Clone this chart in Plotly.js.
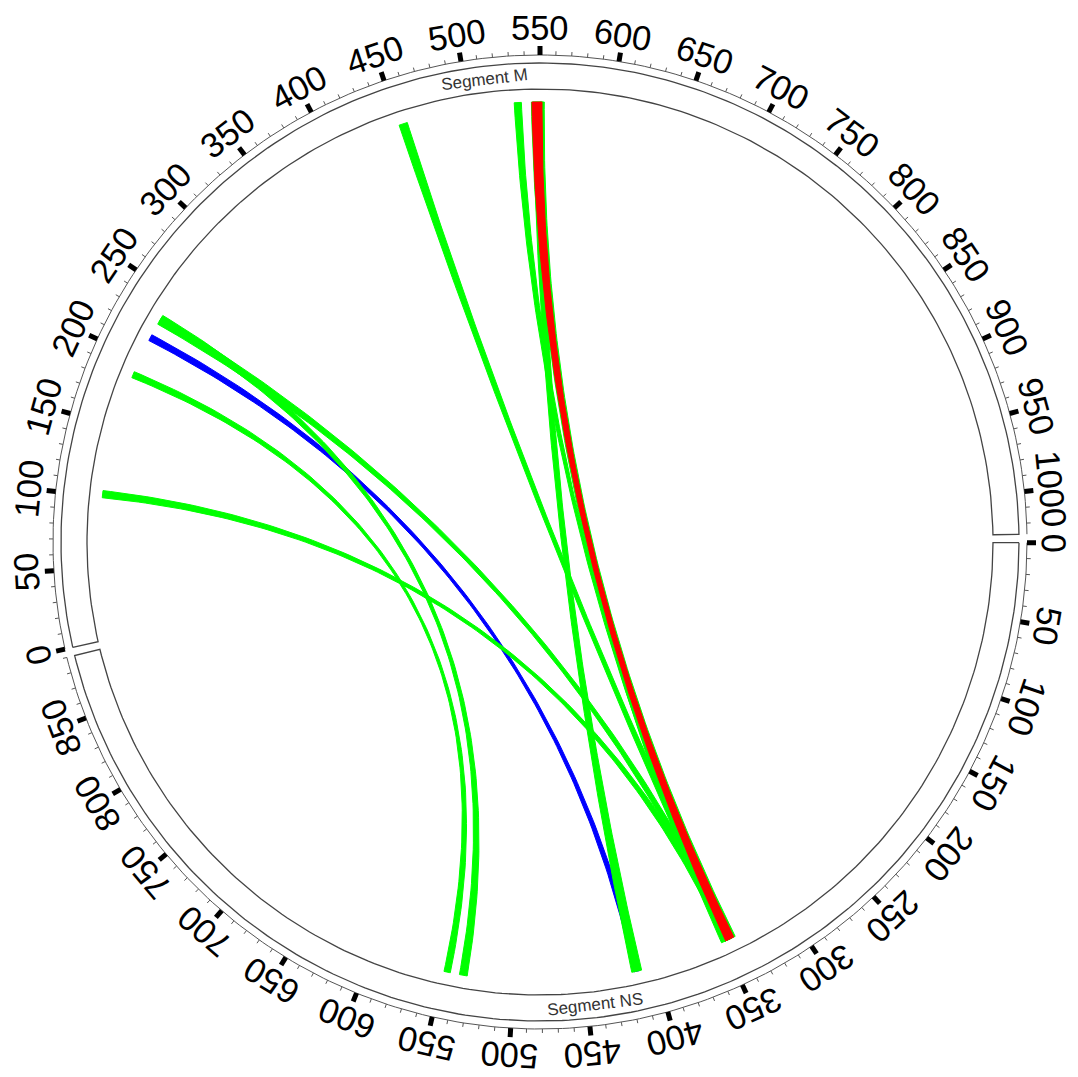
<!DOCTYPE html>
<html>
<head>
<meta charset="utf-8">
<script src="https://cdn.plot.ly/plotly-3.0.1.min.js"></script>
<style>html,body{margin:0;padding:0;background:#fff;}#chart{width:1078px;height:1077px;}</style>
</head>
<body>
<div id="chart"></div>
<script>
// ---------------- data ----------------
const segmentNames = ['Segment M', 'Segment NS'];
const segmentLengths = [1027, 890];
const majorTickStep = 50;
const minorTickStep = 10;

// chords: all link Segment M (start..end) to Segment NS (start..end)
const chordMStart  = [214,   544,   545,   532,   450,   227,   229,   185.5, 99,    544.4];
const chordMEnd    = [218.5, 553,   552,   537,   456,   233,   234,   190,   104,   551.4];
const chordNSStart = [411.5, 340.5, 410,   345,   344,   343,   532.5, 544.5, 344,   341.6];
const chordNSEnd   = [415.5, 351,   417,   349,   349,   348,   538,   549,   349,   347.8];
const chordColors  = ['#0000ff','#00ff00','#00ff00','#00ff00','#00ff00','#00ff00','#00ff00','#00ff00','#00ff00','#ff0000'];

// ---------------- geometry ----------------
const GAP = 1;                       // degrees between segments
const total = segmentLengths.reduce((a, b) => a + b, 0);
const K = (360 - GAP * segmentLengths.length) / total;   // degrees per base
const startM = 360 - 550 * K;        // M starts so that 550 sits at the top
const segStart = [startM, startM + segmentLengths[0] * K + GAP];

const R_CHORD = 440, R_BOX_IN = 453, R_BOX_OUT = 479, R_TICK = 487;
const R_MAJ = 496, R_MIN = 491, R_LAB = 514, R_SEGLAB = 466;

function ang(seg, pos) { return segStart[seg] + pos * K; }
function pol(r, th) { const a = th * Math.PI / 180; return [r * Math.sin(a), r * Math.cos(a)]; }
function norm(a) { a = ((a % 360) + 360) % 360; if (a > 180) a -= 360; return a; }

const traces = [];
const annotations = [];

// segment boxes + tick arcs
segmentLengths.forEach((len, s) => {
  const a0 = ang(s, 0), a1 = ang(s, len);
  const xs = [], ys = [];
  const n = 200;
  for (let i = 0; i <= n; i++) { const p = pol(R_BOX_OUT, a0 + (a1 - a0) * i / n); xs.push(p[0]); ys.push(p[1]); }
  for (let i = n; i >= 0; i--) { const p = pol(R_BOX_IN, a0 + (a1 - a0) * i / n); xs.push(p[0]); ys.push(p[1]); }
  xs.push(xs[0]); ys.push(ys[0]);
  traces.push({x: xs, y: ys, mode: 'lines', line: {color: '#444', width: 1.3}, hoverinfo: 'skip'});
  const tx = [], ty = [];
  for (let i = 0; i <= n; i++) { const p = pol(R_TICK, a0 + (a1 - a0) * i / n); tx.push(p[0]); ty.push(p[1]); }
  traces.push({x: tx, y: ty, mode: 'lines', line: {color: '#555', width: 1}, hoverinfo: 'skip'});

  // minor ticks
  const mx = [], my = [];
  for (let v = 0; v <= len; v += minorTickStep) {
    if (v % majorTickStep === 0) continue;
    const p0 = pol(R_TICK, ang(s, v)), p1 = pol(R_MIN, ang(s, v));
    mx.push(p0[0], p1[0], null); my.push(p0[1], p1[1], null);
  }
  traces.push({x: mx, y: my, mode: 'lines', line: {color: '#555', width: 1}, hoverinfo: 'skip'});
  // major ticks + labels
  const Mx = [], My = [];
  for (let v = 0; v <= len; v += majorTickStep) {
    const th = ang(s, v);
    const p0 = pol(R_TICK, th), p1 = pol(R_MAJ, th);
    Mx.push(p0[0], p1[0], null); My.push(p0[1], p1[1], null);
    const pl = pol(R_LAB, th);
    annotations.push({x: pl[0], y: pl[1], xref: 'x', yref: 'y', text: String(v), showarrow: false,
      textangle: norm(th), xanchor: 'center', yanchor: 'middle',
      font: {family: 'Liberation Sans, Arial, sans-serif', size: 34.5, color: '#000'}});
  }
  traces.push({x: Mx, y: My, mode: 'lines', line: {color: '#000', width: 5}, hoverinfo: 'skip'});

  // segment name
  const mid = ang(s, len / 2);
  const ps = pol(R_SEGLAB, mid);
  const m = ((mid % 360) + 360) % 360;
  const ta = (m > 90 && m < 270) ? norm(m - 180) : norm(m);
  annotations.push({x: ps[0], y: ps[1], xref: 'x', yref: 'y', text: segmentNames[s], showarrow: false,
    textangle: ta, xanchor: 'center', yanchor: 'middle',
    font: {family: 'Liberation Sans, Arial, sans-serif', size: 17, color: '#333'}});
});

// chords
function bez(p0, p2, n) {
  const out = [];
  for (let i = 0; i <= n; i++) {
    const t = i / n;
    out.push([(1 - t) * (1 - t) * p0[0] + t * t * p2[0], (1 - t) * (1 - t) * p0[1] + t * t * p2[1]]);
  }
  return out;
}
for (let i = 0; i < chordMStart.length; i++) {
  const a = ang(0, chordMStart[i]), b = ang(0, chordMEnd[i]);
  const c = ang(1, chordNSStart[i]), d = ang(1, chordNSEnd[i]);
  let pts = [];
  for (let j = 0; j <= 6; j++) pts.push(pol(R_CHORD, a + (b - a) * j / 6));
  pts = pts.concat(bez(pol(R_CHORD, b), pol(R_CHORD, c), 120));
  for (let j = 0; j <= 6; j++) pts.push(pol(R_CHORD, c + (d - c) * j / 6));
  pts = pts.concat(bez(pol(R_CHORD, d), pol(R_CHORD, a), 120));
  traces.push({x: pts.map(p => p[0]), y: pts.map(p => p[1]), mode: 'lines', fill: 'toself',
    fillcolor: chordColors[i], line: {color: chordColors[i], width: 1}, hoverinfo: 'skip'});
}

const layout = {
  width: 1078, height: 1077,
  margin: {l: 0, r: 0, t: 0, b: 0, pad: 0},
  paper_bgcolor: '#fff', plot_bgcolor: '#fff',
  showlegend: false,
  xaxis: {range: [-540, 538], visible: false, fixedrange: true},
  yaxis: {range: [-535, 542], visible: false, fixedrange: true},
  annotations: annotations
};
Plotly.newPlot('chart', traces, layout, {displayModeBar: false, staticPlot: true});
</script>
</body>
</html>
